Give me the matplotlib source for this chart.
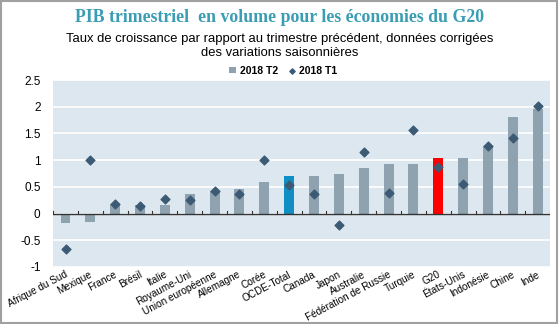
import numpy as np
import matplotlib.pyplot as plt
from matplotlib.patches import Rectangle

plt.rcParams['font.family'] = ['Liberation Sans', 'DejaVu Sans']

pays = ['Afrique du Sud', 'Mexique', 'France', 'Brésil', 'Italie', 'Royaume-Uni',
        'Union européenne', 'Allemagne', 'Corée', 'OCDE-Total', 'Canada', 'Japon',
        'Australie', 'Fédération de Russie', 'Turquie', 'G20', 'États-Unis',
        'Indonésie', 'Chine', 'Inde']
t2 = [-0.17, -0.15, 0.17, 0.16, 0.16, 0.36, 0.43, 0.46, 0.59, 0.70, 0.70, 0.74,
      0.86, 0.93, 0.93, 1.04, 1.04, 1.27, 1.80, 1.96]
t1 = [-0.66, 1.0, 0.17, 0.14, 0.28, 0.26, 0.43, 0.36, 1.01, 0.54, 0.36, -0.22,
      1.15, 0.39, 1.56, 0.88, 0.56, 1.26, 1.42, 2.01]

couleurs = []
for p in pays:
    if p == 'OCDE-Total':
        couleurs.append('#0f8fc3')
    elif p == 'G20':
        couleurs.append('#ff0000')
    else:
        couleurs.append('#8fa2b0')

fig = plt.figure(figsize=(5.59, 3.24), dpi=100)
ax = fig.add_axes([0.095, 0.176, 0.889, 0.577])
ax.set_facecolor('#dde7ef')

x = np.arange(len(pays))
barres = ax.bar(x, t2, width=0.4, color=couleurs, zorder=3)
points = ax.scatter(x, t1, marker='D', s=20, color='#3d5a75', zorder=4)

ax.set_xlim(-0.5, len(pays) - 0.5)
ax.set_ylim(-1, 2.5)
ax.set_yticks([-1, -0.5, 0, 0.5, 1, 1.5, 2, 2.5])
ax.set_yticklabels(['-1', '-0.5', '0', '0.5', '1', '1.5', '2', '2.5'], fontsize=8.5)
ax.yaxis.grid(True, color='white', linewidth=1.2, zorder=0)
ax.tick_params(axis='y', length=0, pad=9)
for s in ax.spines.values():
    s.set_visible(False)

# ligne du zero avec petits traits entre les pays
ax.axhline(0, color='#333333', linewidth=1, zorder=5)
for b in np.arange(-0.5, len(pays), 1.0):
    ax.plot([b, b], [0, 0.05], color='#333333', linewidth=0.8, zorder=5)

ax.set_xticks(x + 0.05)
ax.set_xticklabels(pays, rotation=28, ha='right', va='center', rotation_mode='anchor',
                   fontsize=7.2)
ax.tick_params(axis='x', length=0, pad=5)

fig.text(0.5, 0.945, 'PIB trimestriel  en volume pour les économies du G20',
         ha='center', va='center', fontsize=12.8, color='#3a9db3',
         family='Liberation Serif', fontweight='bold')
fig.text(0.5, 0.88, 'Taux de croissance par rapport au trimestre précédent, données corrigées',
         ha='center', va='center', fontsize=9.4)
fig.text(0.5, 0.835, 'des variations saisonnières',
         ha='center', va='center', fontsize=9.4)

leg = ax.legend([barres[0], points], ['2018 T2', '2018 T1'], loc='lower center',
                bbox_to_anchor=(0.463, 0.99), ncol=2, frameon=False,
                prop={'weight': 'bold', 'size': 7.5}, handlelength=0.6, handleheight=0.6,
                handletextpad=0.4, columnspacing=1.0, markerscale=0.6, borderpad=0.1)

fig.patches.append(Rectangle((0.002, 0.003), 0.995, 0.994, transform=fig.transFigure,
                             fill=False, edgecolor='#a0a0a0', linewidth=1.5))

fig.savefig('out.png', dpi=100)
